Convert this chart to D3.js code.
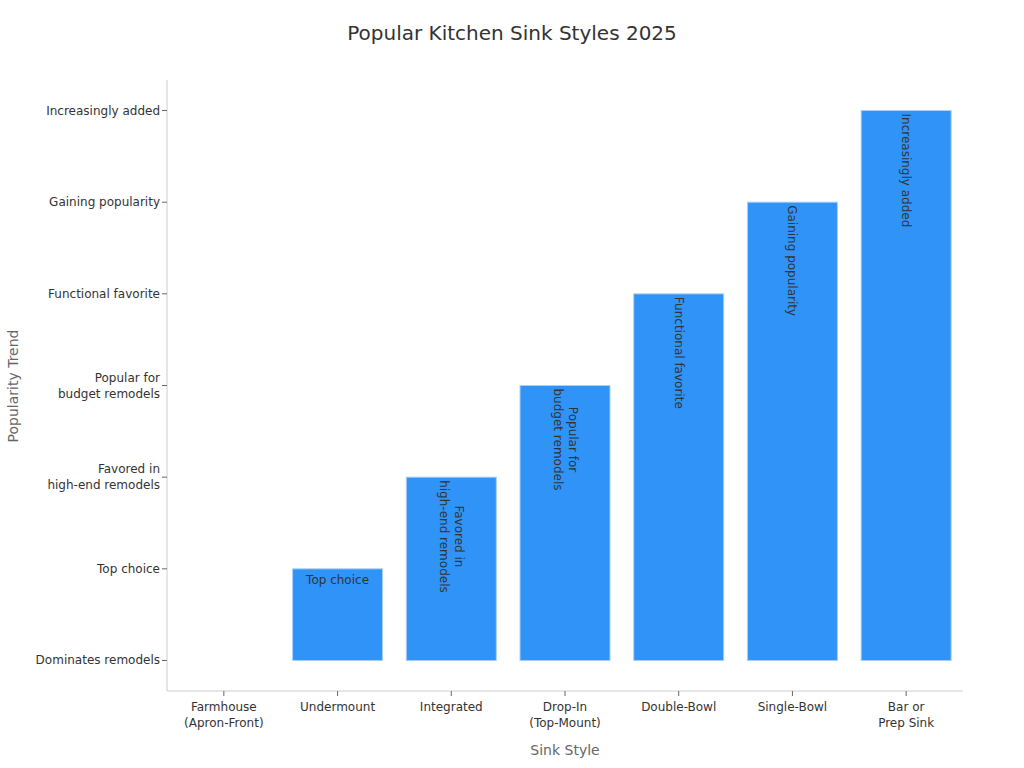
<!DOCTYPE html>
<html><head><meta charset="utf-8">
<script src="https://cdn.jsdelivr.net/npm/d3@7"></script>
<style>body{margin:0;background:#fff;font-family:"DejaVu Sans",sans-serif;}</style>
</head><body><svg id="c" width="1024" height="768"></svg>
<script>
const categories = ["Farmhouse\n(Apron-Front)","Undermount","Integrated","Drop-In\n(Top-Mount)","Double-Bowl","Single-Bowl","Bar or\nPrep Sink"];
const trendLevels = ["Dominates remodels","Top choice","Favored in\nhigh-end remodels","Popular for\nbudget remodels","Functional favorite","Gaining popularity","Increasingly added"];
const values = [0,1,2,3,4,5,6];

const svg = d3.select("#c");
const m = {l:167, r:963, t:80, b:691};
const x = d3.scaleBand().domain(categories).range([m.l, m.r]).paddingInner(0.2).paddingOuter(0.1);
const xc = d3.scaleBand().domain(categories).range([m.l, m.r]);
const step = (m.b - m.t) / 6.667;
const y = d3.scaleLinear().domain([-0.333, 6.333]).range([m.b, m.t]);

svg.append("text").attr("x",512).attr("y",40).attr("text-anchor","middle")
  .attr("font-size",20).attr("fill","#333").text("Popular Kitchen Sink Styles 2025");

// axes
svg.append("line").attr("x1",m.l).attr("x2",m.l).attr("y1",m.t).attr("y2",m.b).attr("stroke","#ccc");
svg.append("line").attr("x1",m.l).attr("x2",m.r).attr("y1",m.b).attr("y2",m.b).attr("stroke","#ccc");

trendLevels.forEach((t,i)=>{
  const yy = y(i);
  svg.append("line").attr("x1",m.l-5).attr("x2",m.l).attr("y1",yy).attr("y2",yy).attr("stroke","#666");
  const lines = t.split("\n");
  const tx = svg.append("text").attr("x",m.l-7).attr("text-anchor","end").attr("font-size",12).attr("fill","#333");
  lines.forEach((l,j)=>tx.append("tspan").attr("x",m.l-7)
    .attr("y", yy + 4 + (j - (lines.length-1)/2)*16).text(l));
});
categories.forEach(c=>{
  const cx = xc(c)+xc.bandwidth()/2;
  svg.append("line").attr("x1",cx).attr("x2",cx).attr("y1",m.b).attr("y2",m.b+5).attr("stroke","#666");
  const tx = svg.append("text").attr("text-anchor","middle").attr("font-size",12).attr("fill","#333");
  c.split("\n").forEach((l,j)=>tx.append("tspan").attr("x",cx).attr("y",m.b+20+j*16).text(l));
});

svg.append("text").attr("x",565).attr("y",755).attr("text-anchor","middle").attr("font-size",14).attr("fill","#666").text("Sink Style");
svg.append("text").attr("transform","translate(18,386) rotate(-90)").attr("text-anchor","middle").attr("font-size",14).attr("fill","#666").text("Popularity Trend");

// bars
const bw = 90;
values.forEach((v,i)=>{
  const c = categories[i];
  const cx = xc(c)+xc.bandwidth()/2;
  const top = y(v), base = y(0);
  if (v>0) svg.append("rect").attr("x",cx-bw/2).attr("y",top).attr("width",bw).attr("height",base-top)
    .attr("fill","#3093f8").attr("stroke","#a9cff7").attr("stroke-width",1);
  if (v===0) return;
  const label = trendLevels[v];
  const lines = label.split("\n");
  // measure
  const g = svg.append("g");
  const tmp = lines.map(l=>g.append("text").attr("font-size",12).text(l));
  const maxLen = d3.max(tmp, t=>t.node().getComputedTextLength());
  tmp.forEach(t=>t.remove());
  if (maxLen < bw - 10 && lines.length===1) {
    g.append("text").attr("x",cx).attr("y",top+15).attr("text-anchor","middle")
      .attr("font-size",12).attr("fill","#333").text(label);
  } else {
    const mid = top + 3 + maxLen/2;
    const t = g.append("text").attr("transform",`translate(${cx},${mid}) rotate(90)`)
      .attr("text-anchor","middle").attr("font-size",12).attr("fill","#333");
    lines.forEach((l,j)=>t.append("tspan").attr("x",0)
      .attr("y", 4 + (j - (lines.length-1)/2)*15).text(l));
  }
});
</script></body></html>
